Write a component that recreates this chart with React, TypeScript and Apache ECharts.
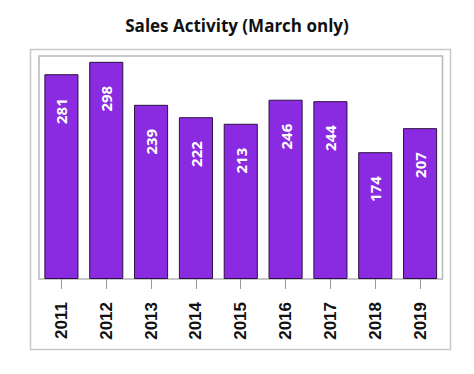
import React, { useEffect, useRef } from "react";
import * as echarts from "echarts";

const years = ["2011", "2012", "2013", "2014", "2015", "2016", "2017", "2018", "2019"];
const sales = [281, 298, 239, 222, 213, 246, 244, 174, 207];
const chartTitle = "Sales Activity (March only)";

export default function App() {
  const ref = useRef<HTMLDivElement>(null);
  useEffect(() => {
    if (!ref.current) return;
    const chart = echarts.init(ref.current, null, { renderer: "svg" });
    chart.setOption({
      animation: false,
      backgroundColor: "#ffffff",
      title: {
        text: chartTitle,
        left: "center",
        top: 12,
        textStyle: { fontFamily: "Open Sans", fontWeight: "bold", fontSize: 17, color: "#111" },
      },
      graphic: [
        {
          type: "rect",
          shape: { x: 30.5, y: 49.5, width: 420, height: 300 },
          style: { fill: "none", stroke: "#c8c8c8", lineWidth: 1.5 },
          silent: true,
        },
      ],
      grid: {
        left: 39,
        right: 31.5,
        top: 56,
        bottom: 95,
        show: true,
        borderColor: "#b8b8b8",
        borderWidth: 1.5,
        containLabel: false,
      },
      xAxis: {
        type: "category",
        data: years,
        axisLine: { show: false },
        axisTick: { show: true, alignWithLabel: true, length: 10, lineStyle: { color: "#999" } },
        axisLabel: {
          rotate: 90,
          margin: 23,
          fontFamily: "Liberation Sans",
          fontWeight: "bold",
          fontSize: 17,
          color: "#111",
        },
      },
      yAxis: {
        type: "value",
        min: 0,
        max: 306,
        show: false,
        splitLine: { show: false },
      },
      series: [
        {
          type: "bar",
          data: sales,
          barCategoryGap: "24%",
          itemStyle: { color: "#8a2be2", borderColor: "#2a1040", borderWidth: 1 },
          label: {
            show: true,
            position: "insideTop",
            rotate: 90,
            align: "right",
            verticalAlign: "middle",
            distance: 24,
            color: "#ffffff",
            fontFamily: "Open Sans",
            fontWeight: "bold",
            fontSize: 15,
          },
        },
      ],
    });
    return () => chart.dispose();
  }, []);
  return (
    <div
      ref={ref}
      style={{ position: "fixed", left: 0, top: 0, width: 474, height: 374, background: "#fff" }}
    />
  );
}
